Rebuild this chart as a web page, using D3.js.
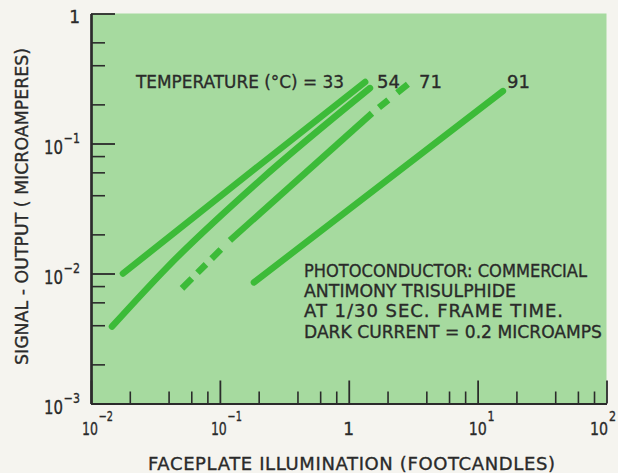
<!DOCTYPE html>
<html>
<head>
<meta charset="utf-8">
<script src="https://cdn.jsdelivr.net/npm/d3@7"></script>
<style>
  html, body { margin: 0; padding: 0; background: #f5f4ef; }
  svg { display: block; }
  text { font-family: "DejaVu Sans", "Noto Sans", sans-serif; fill: #2a2a2a; stroke: #2a2a2a; stroke-width: 0.35; }
</style>
</head>
<body>
<div id="chart"></div>
<script>
// Signal output vs. faceplate illumination, log-log, for four tube temperatures.
const xMajorTicks = [0.01, 0.1, 1, 10, 100];
const xMinorTicks = [0.02, 0.04, 0.06, 0.08, 0.2, 0.4, 0.6, 0.8, 2, 4, 6, 8, 20, 40, 60, 80];
const yMajorTicks = [0.001, 0.01, 0.1, 1];
const yMinorTicks = [0.002, 0.004, 0.006, 0.008, 0.02, 0.04, 0.06, 0.08, 0.2, 0.4, 0.6];

// [illumination (footcandles), signal (microamperes)]
const curve33 = [[0.0177, 0.0100], [0.181, 0.0622], [1.34, 0.297]];
const curve54 = [[0.01455, 0.00391], [0.0389, 0.01114], [0.2047, 0.0521], [1.46, 0.2667]];
const curve71 = [[0.0508, 0.00768], [0.1197, 0.0180], [1.514, 0.171], [2.877, 0.286]];
const curve91 = [[0.1838, 0.00854], [15.7, 0.253]];

const temperatures = ["33", "54", "71", "91"];
const legendTitle = "TEMPERATURE (°C) = ";
const noteLines = [
  "PHOTOCONDUCTOR: COMMERCIAL",
  "ANTIMONY TRISULPHIDE",
  "AT 1/30 SEC. FRAME TIME.",
  "DARK CURRENT = 0.2 MICROAMPS"
];
const xTitle = "FACEPLATE  ILLUMINATION  (FOOTCANDLES)";
const yTitle = "SIGNAL - OUTPUT ( MICROAMPERES)";

const W = 618, H = 473;
const plotL = 91, plotR = 606.5, plotT = 13.5, plotB = 403.5;

const svg = d3.select("#chart").append("svg").attr("width", W).attr("height", H);

const x = d3.scaleLog().domain([0.01, 100]).range([plotL, plotR]);
const y = d3.scaleLog().domain([0.001, 1]).range([plotB, plotT]);

// fit a text run to a given width: squeeze glyphs when too wide, open spacing when short
function fitText(sel, width) {
  const natural = sel.node().getComputedTextLength();
  sel.attr("textLength", width)
     .attr("lengthAdjust", natural > width ? "spacingAndGlyphs" : "spacing");
  return sel;
}

// plot panel
svg.append("rect")
  .attr("x", plotL).attr("y", plotT)
  .attr("width", plotR - plotL).attr("height", plotB - plotT)
  .attr("fill", "#a6da9f");

// axes: minor and major ticks pointing into the panel
const axisColor = "#2b2b2b";
function styleAxis(g, w) {
  g.selectAll(".domain").attr("stroke", axisColor).attr("stroke-width", 2.2);
  g.selectAll(".tick line").attr("stroke", axisColor).attr("stroke-width", w);
  g.selectAll(".tick text").remove();
}
svg.append("g").attr("transform", `translate(0,${plotB})`)
  .call(d3.axisBottom(x).tickValues(xMinorTicks).tickSize(-12).tickSizeOuter(0).tickFormat(""))
  .call(g => styleAxis(g, 1.6));
svg.append("g").attr("transform", `translate(0,${plotB})`)
  .call(d3.axisBottom(x).tickValues(xMajorTicks).tickSize(-23).tickSizeOuter(0).tickFormat(""))
  .call(g => styleAxis(g, 1.8));
svg.append("g").attr("transform", `translate(${plotL},0)`)
  .call(d3.axisLeft(y).tickValues(yMinorTicks).tickSize(-14).tickSizeOuter(0).tickFormat(""))
  .call(g => styleAxis(g, 1.6));
svg.append("g").attr("transform", `translate(${plotL},0)`)
  .call(d3.axisLeft(y).tickValues(yMajorTicks).tickSize(-24).tickSizeOuter(0).tickFormat(""))
  .call(g => styleAxis(g, 1.8));

// tick labels: powers of ten with raised exponents
const expo = v => Math.round(Math.log10(v));
const sup = e => (e < 0 ? "\u2212" + (-e) : String(e));
function powerLabel(px, py, e, baseSize, rise, width) {
  const t = svg.append("text").attr("x", px).attr("y", py).attr("font-size", baseSize);
  t.append("tspan").text("10");
  t.append("tspan").attr("dx", 1).attr("dy", -rise).attr("font-size", 14).text(sup(e));
  return fitText(t, width);
}
xMajorTicks.forEach(v => {
  const e = expo(v), px = x(v);
  if (e === 0) {
    svg.append("text").attr("x", px).attr("y", 435).attr("text-anchor", "middle")
      .attr("font-size", 17).text("1");
  } else {
    const w = e < 0 ? 31 : 26;
    powerLabel(Math.min(px - 9, W - 2 - w), 435, e, 18, 14, w);
  }
});
yMajorTicks.forEach(v => {
  const e = expo(v), py = y(v);
  if (e === 0) {
    svg.append("text").attr("x", 80).attr("y", py + 9).attr("text-anchor", "end")
      .attr("font-size", 17).text("1");
  } else {
    powerLabel(44, py + 10, e, 19, 11, 36);
  }
});

// axis titles
fitText(svg.append("text").attr("x", 148).attr("y", 470)
  .attr("font-size", 18).text(xTitle), 407);
fitText(svg.append("text").attr("transform", "translate(28,365) rotate(-90)")
  .attr("font-size", 18).text(yTitle), 317);

// response curves
const lineGen = d3.line().x(d => x(d[0])).y(d => y(d[1])).curve(d3.curveMonotoneX);
const green = "#3cbb38";
const strokeW = 6.5;
function drawCurve(pts, cap, dash) {
  const p = svg.append("path").attr("d", lineGen(pts))
    .attr("fill", "none").attr("stroke", green).attr("stroke-width", strokeW)
    .attr("stroke-linecap", cap).attr("stroke-linejoin", "round");
  if (dash) p.attr("stroke-dasharray", dash);
}
drawCurve(curve33, "round");
drawCurve(curve54, "round");
drawCurve(curve91, "round");
// the 71 °C curve is dashed at both extremes
drawCurve(curve71.slice(0, 2), "butt", "14 8 12 8 13 14");
drawCurve(curve71.slice(1, 3), "butt");
drawCurve(curve71.slice(2, 4), "butt", "0 9 12 11.5 14 0");

// temperature labels
fitText(svg.append("text").attr("x", 136).attr("y", 88)
  .attr("font-size", 18).text(legendTitle + temperatures[0]), 208);
const tempLabelX = [377, 419, 507];
temperatures.slice(1).forEach((t, i) => {
  svg.append("text").attr("x", tempLabelX[i]).attr("y", 88)
    .attr("font-size", 18).text(t);
});

// conditions note
const noteWidths = [283, 212, 259, 298];
const noteBase = [277, 297, 317, 338];
noteLines.forEach((s, i) => {
  fitText(svg.append("text").attr("x", 304).attr("y", noteBase[i])
    .attr("font-size", 18).text(s), noteWidths[i]);
});
</script>
</body>
</html>
